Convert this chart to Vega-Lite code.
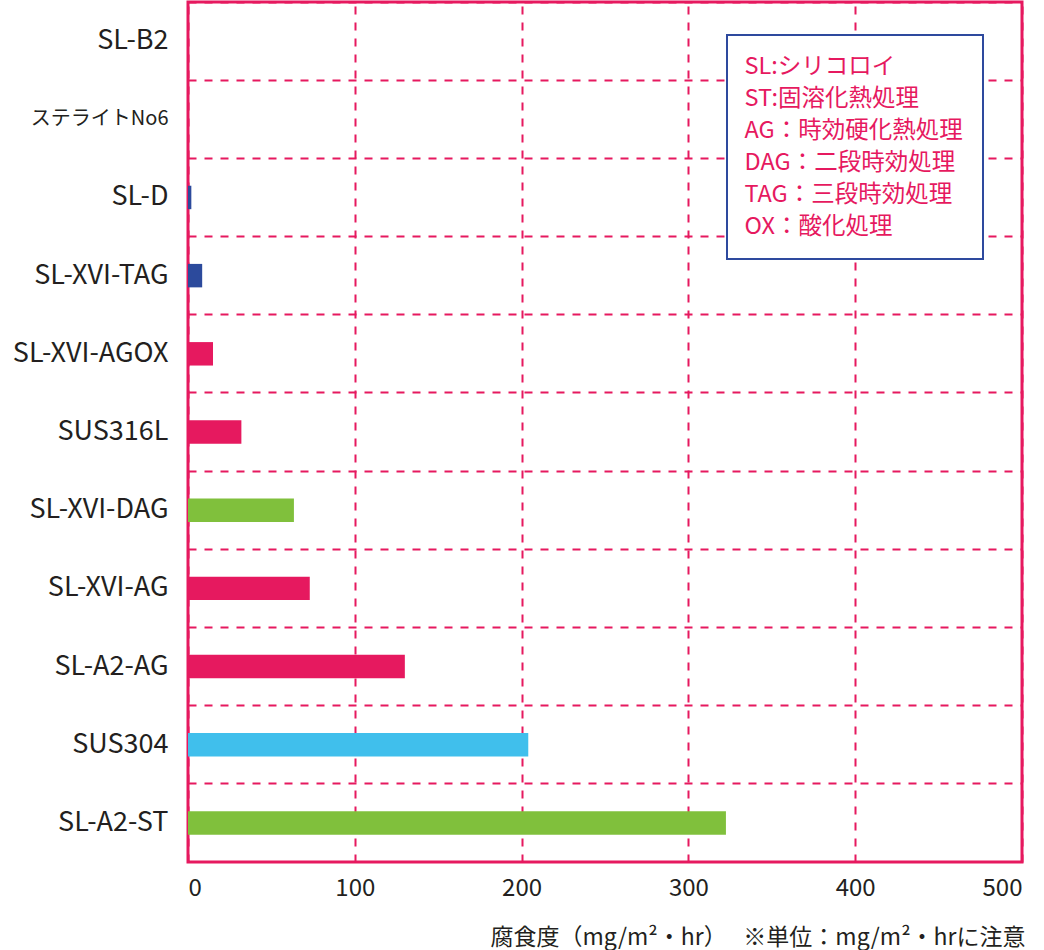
{
  "$schema": "https://vega.github.io/schema/vega-lite/v6.json",
  "autosize": {"type": "none"},
  "padding": {"left": 188, "top": 2, "right": 22, "bottom": 88},
  "width": 834,
  "height": 860,
  "background": "white",
  "config": {
    "font": "Noto Sans CJK JP",
    "view": {"stroke": "#e6195f", "strokeWidth": 3},
    "legend": {
      "strokeColor": "#2e4a9e",
      "strokeWidth": 2,
      "fillColor": "white",
      "padding": 20,
      "labelColor": "#e6195f",
      "labelFontSize": 23.5,
      "labelFont": "Noto Sans CJK JP",
      "labelLimit": 500,
      "symbolOpacity": 0,
      "symbolStrokeWidth": 0,
      "symbolSize": 0,
      "labelOffset": -26,
      "rowPadding": 7
    }
  },
  "layer": [
    {
      "data": {
        "values": [
          {"name": "SL-B2", "value": 0, "group": "A"},
          {"name": "ステライトNo6", "value": 0, "group": "A"},
          {"name": "SL-D", "value": 2, "group": "B"},
          {"name": "SL-XVI-TAG", "value": 8.5, "group": "B"},
          {"name": "SL-XVI-AGOX", "value": 15, "group": "A"},
          {"name": "SUS316L", "value": 32, "group": "A"},
          {"name": "SL-XVI-DAG", "value": 63.5, "group": "C"},
          {"name": "SL-XVI-AG", "value": 73, "group": "A"},
          {"name": "SL-A2-AG", "value": 130, "group": "A"},
          {"name": "SUS304", "value": 204, "group": "D"},
          {"name": "SL-A2-ST", "value": 322.5, "group": "C"}
        ]
      },
      "mark": {"type": "bar", "height": {"band": 0.3}},
      "encoding": {
        "y": {
          "field": "name",
          "type": "nominal",
          "sort": ["SL-B2", "ステライトNo6", "SL-D", "SL-XVI-TAG", "SL-XVI-AGOX", "SUS316L", "SL-XVI-DAG", "SL-XVI-AG", "SL-A2-AG", "SUS304", "SL-A2-ST"],
          "scale": {"paddingInner": 0, "paddingOuter": 0},
          "axis": {
            "title": null,
            "domain": false,
            "ticks": false,
            "labelFontSize": {"condition": {"test": "datum.value == 'ステライトNo6'", "value": 20}, "value": 27},
            "labelColor": "#231f20",
            "labelPadding": 20,
            "labelLimit": 400,
            "grid": true,
            "bandPosition": 0,
            "gridColor": "#e6195f",
            "gridDash": [8, 8],
            "gridWidth": 2,
            "gridOpacity": 1
          }
        },
        "x": {
          "field": "value",
          "type": "quantitative",
          "scale": {"domain": [0, 500], "nice": false},
          "axis": {
            "values": [0, 100, 200, 300, 400, 500],
            "domain": false,
            "ticks": false,
            "labelFontSize": 24,
            "labelColor": "#231f20",
            "labelPadding": 14,
            "grid": true,
            "gridColor": "#e6195f",
            "gridDash": [8, 8],
            "gridWidth": 2,
            "gridOpacity": 1,
            "title": "腐食度（mg/m²・hr）　 ※単位：mg/m²・hrに注意",
            "titleFontSize": 23,
            "titleFontWeight": "normal",
            "titleColor": "#231f20",
            "titleAnchor": "end",
            "titleX": 837,
            "titleY": 82,
            "titleBaseline": "alphabetic"
          }
        },
        "color": {
          "field": "group",
          "type": "nominal",
          "scale": {"domain": ["A", "B", "C", "D"], "range": ["#e6195f", "#2c4a9c", "#80c03c", "#40bfec"]},
          "legend": null
        }
      }
    },
    {
      "data": {
        "values": [
          {"note": "SL:シリコロイ"},
          {"note": "ST:固溶化熱処理"},
          {"note": "AG：時効硬化熱処理"},
          {"note": "DAG：二段時効処理"},
          {"note": "TAG：三段時効処理"},
          {"note": "OX：酸化処理"}
        ]
      },
      "mark": {"type": "point", "opacity": 0},
      "encoding": {
        "shape": {
          "field": "note",
          "type": "nominal",
          "scale": {"domain": ["SL:シリコロイ", "ST:固溶化熱処理", "AG：時効硬化熱処理", "DAG：二段時効処理", "TAG：三段時効処理", "OX：酸化処理"]},
          "legend": {"title": null, "orient": "none", "legendX": 539, "legendY": 33}
        }
      }
    }
  ]
}
